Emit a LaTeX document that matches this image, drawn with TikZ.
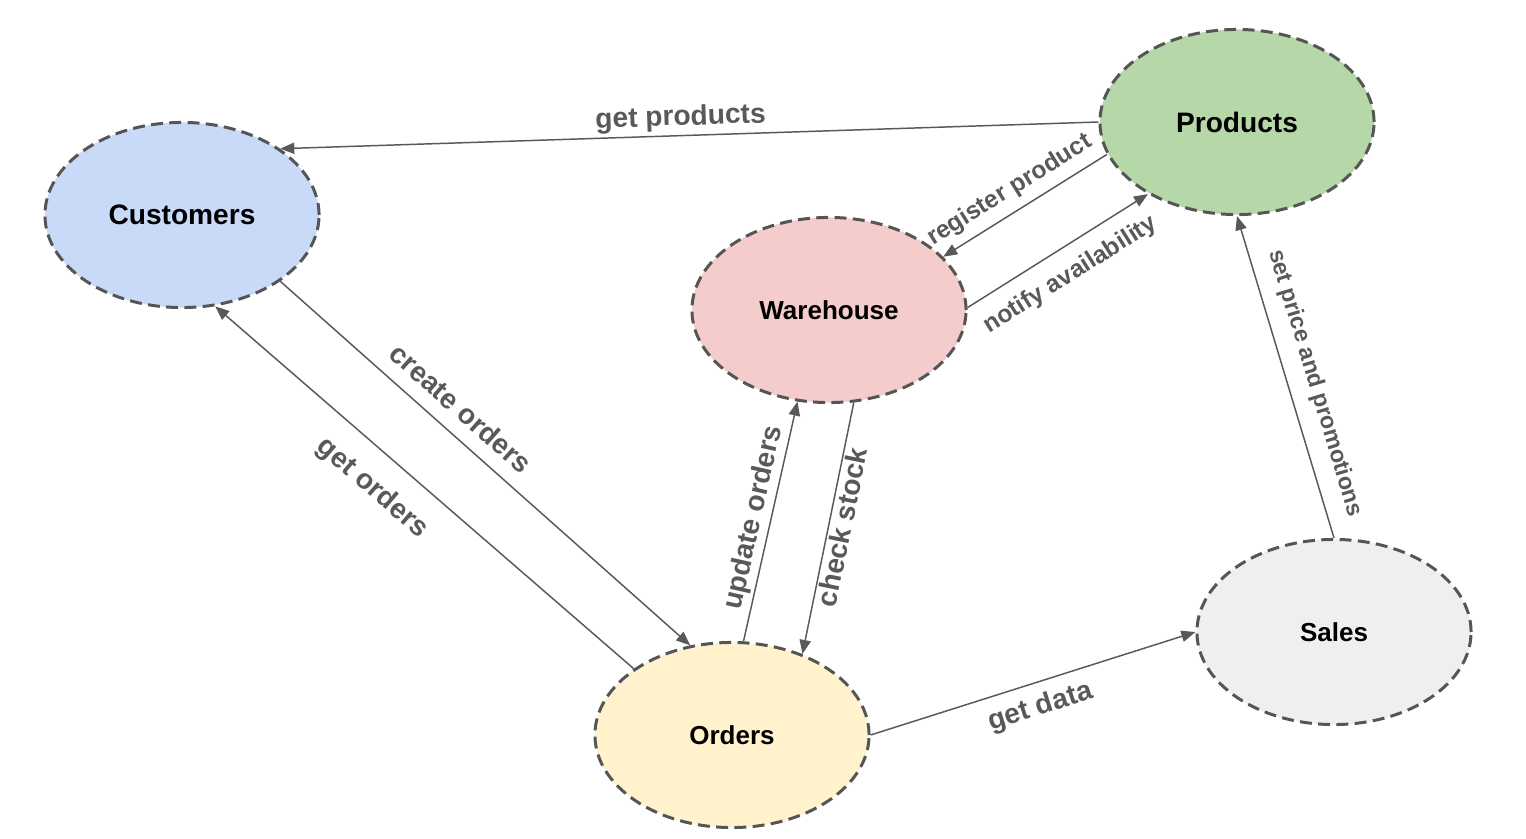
\documentclass[tikz,border=0pt]{standalone}
\usepackage{fontspec}
\setmainfont{Liberation Sans}
\usetikzlibrary{shapes.geometric,arrows.meta}
\definecolor{edgegray}{HTML}{595959}
\definecolor{bordergray}{HTML}{555555}
\definecolor{cblue}{HTML}{C9DAF8}
\definecolor{cgreen}{HTML}{B6D7A8}
\definecolor{cred}{HTML}{F4CCCC}
\definecolor{cyellow}{HTML}{FFF2CC}
\definecolor{cgrey}{HTML}{EFEFEF}
\tikzset{
  entity/.style={ellipse, draw=bordergray, line width=0.85pt,
    dash pattern=on 3.4pt off 1.8pt, minimum width=2.74cm, minimum height=1.85cm,
    inner sep=0pt, font=\fontsize{8}{9.6}\selectfont\bfseries, text=black},
  smallentity/.style={entity, font=\fontsize{7.4}{9}\selectfont\bfseries},
  conn/.style={draw=edgegray, line width=0.42pt,
    -{Triangle[length=4pt,width=3.2pt]}},
  lbl/.style={font=\fontsize{8}{9.6}\selectfont\bfseries, text=edgegray, sloped,
    inner sep=0pt, text height=6pt, text depth=1.7pt},
  slbl/.style={font=\fontsize{7}{8.4}\selectfont\bfseries, text=edgegray, sloped,
    inner sep=0pt, text height=5.2pt, text depth=1.5pt},
  xslbl/.style={font=\fontsize{6.6}{8}\selectfont\bfseries, text=edgegray, sloped,
    inner sep=0pt, text height=5pt, text depth=1.4pt}
}
\begin{document}
\begin{tikzpicture}[x=0.01cm,y=-0.01cm]
\useasboundingbox (0,0) rectangle (1526,839);
\node[entity, fill=cblue] (cust) at (182,215) {Customers};
\node[entity, fill=cgreen] (prod) at (1237,122) {Products};
\node[smallentity, fill=cred] (ware) at (829,310) {Warehouse};
\node[smallentity, fill=cyellow] (ord) at (732,735) {Orders};
\node[smallentity, fill=cgrey] (sales) at (1334,632) {Sales};

\draw[conn] (prod.180) -- node[lbl, pos=0.51, above=1pt] {get products} (cust.34);
\draw[conn] (cust.-34) -- node[lbl, pos=0.40, above=2.4pt] {create orders} (ord.115);
\draw[conn] (ord.146) -- node[lbl, pos=0.57, below=5.7pt] {get orders} (cust.-70);
\draw[conn] (prod.194) -- node[slbl, pos=0.525, above=2.5pt] {register product} (ware.25);
\draw[conn] (ware.1) -- node[slbl, pos=0.49, below=4.2pt] {notify availability} (prod.219);
\draw[conn] (ord.83) -- node[lbl, pos=0.5, above=0.8pt] {update orders} (ware.251);
\draw[conn] (ware.-75.5) -- node[lbl, pos=0.485, below=0.4pt] {check stock} (ord.49);
\draw[conn] (ord.0) -- node[lbl, pos=0.5, below=2.9pt] {get data} (sales.180);
\draw[conn] (sales.90) -- node[xslbl, pos=0.457, above=4.2pt] {set price and promotions} (prod.270);
\end{tikzpicture}
\end{document}
